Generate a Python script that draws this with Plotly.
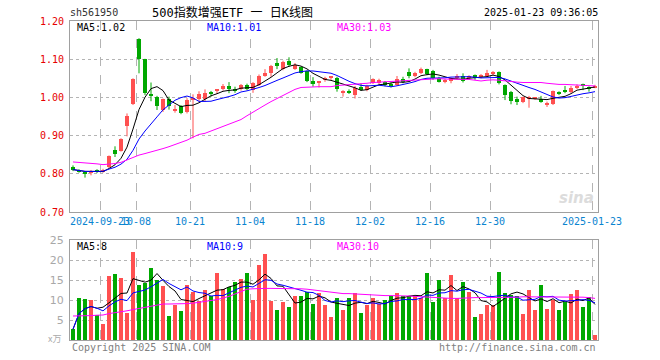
import plotly.graph_objects as go
import pandas as pd

# ---------------- data ----------------
dates = ["2024-09-12", "2024-09-13", "2024-09-18", "2024-09-19", "2024-09-20", "2024-09-23", "2024-09-24",
         "2024-09-25", "2024-09-26", "2024-09-27", "2024-09-30",
         "2024-10-08", "2024-10-09", "2024-10-10", "2024-10-11", "2024-10-14", "2024-10-15", "2024-10-16",
         "2024-10-17", "2024-10-18", "2024-10-21", "2024-10-22", "2024-10-23", "2024-10-24", "2024-10-25",
         "2024-10-28", "2024-10-29", "2024-10-30", "2024-10-31",
         "2024-11-01", "2024-11-04", "2024-11-05", "2024-11-06", "2024-11-07", "2024-11-08", "2024-11-11",
         "2024-11-12", "2024-11-13", "2024-11-14", "2024-11-15", "2024-11-18", "2024-11-19", "2024-11-20",
         "2024-11-21", "2024-11-22", "2024-11-25", "2024-11-26", "2024-11-27", "2024-11-28", "2024-11-29",
         "2024-12-02", "2024-12-03", "2024-12-04", "2024-12-05", "2024-12-06", "2024-12-09", "2024-12-10",
         "2024-12-11", "2024-12-12", "2024-12-13", "2024-12-16", "2024-12-17", "2024-12-18", "2024-12-19",
         "2024-12-20", "2024-12-23", "2024-12-24", "2024-12-25", "2024-12-26", "2024-12-27", "2024-12-30",
         "2024-12-31",
         "2025-01-02", "2025-01-03", "2025-01-06", "2025-01-07", "2025-01-08", "2025-01-09", "2025-01-10",
         "2025-01-13", "2025-01-14", "2025-01-15", "2025-01-16", "2025-01-17", "2025-01-20", "2025-01-21",
         "2025-01-22", "2025-01-23"]

open_ = [0.819, 0.810, 0.803, 0.804, 0.809, 0.806, 0.818, 0.862, 0.860, 0.926,
         0.982, 1.154, 1.101, 1.008, 1.000, 0.968, 0.997, 0.967, 0.977, 0.962,
         0.992, 0.995, 0.997, 1.012, 1.017, 1.021, 1.030, 1.020, 1.021, 1.032,
         1.019, 1.032, 1.056, 1.065, 1.089, 1.074, 1.096, 1.074, 1.079, 1.068,
         1.044, 1.039, 1.046, 1.051, 1.051, 1.012, 1.015, 1.006, 1.028, 1.019,
         1.037, 1.037, 1.041, 1.033, 1.032, 1.047, 1.067, 1.056, 1.065, 1.074,
         1.069, 1.052, 1.040, 1.044, 1.053, 1.056, 1.050, 1.059, 1.055, 1.056,
         1.062, 1.066, 1.032, 1.015, 0.995, 0.989, 0.998, 0.996, 0.995, 0.982,
         0.983, 1.014, 1.017, 1.013, 1.027, 1.035, 1.025, 1.026]
high_ = [0.822, 0.812, 0.806, 0.810, 0.812, 0.813, 0.848, 0.872, 0.893, 0.958,
         1.050, 1.155, 1.101, 1.039, 1.004, 0.997, 1.002, 0.980, 0.980, 0.998,
         1.008, 1.016, 1.021, 1.017, 1.022, 1.035, 1.040, 1.028, 1.035, 1.036,
         1.040, 1.060, 1.074, 1.085, 1.103, 1.096, 1.105, 1.090, 1.081, 1.070,
         1.053, 1.043, 1.054, 1.054, 1.054, 1.019, 1.021, 1.030, 1.037, 1.033,
         1.050, 1.049, 1.043, 1.039, 1.056, 1.054, 1.076, 1.067, 1.078, 1.075,
         1.072, 1.054, 1.048, 1.052, 1.061, 1.063, 1.058, 1.060, 1.061, 1.072,
         1.069, 1.068, 1.034, 1.017, 1.002, 1.002, 1.004, 1.001, 1.004, 0.989,
         1.018, 1.016, 1.030, 1.030, 1.034, 1.036, 1.029, 1.033]
low_ = [0.807, 0.803, 0.790, 0.796, 0.802, 0.803, 0.815, 0.844, 0.858, 0.898,
        0.980, 1.063, 1.006, 0.990, 0.967, 0.962, 0.968, 0.960, 0.956, 0.958,
        0.893, 0.990, 0.989, 1.002, 1.009, 1.018, 1.011, 1.012, 1.018, 1.019,
        1.012, 1.030, 1.054, 1.054, 1.074, 1.071, 1.081, 1.072, 1.062, 1.040,
        1.028, 1.026, 1.041, 1.046, 1.015, 1.002, 1.009, 0.997, 1.017, 1.016,
        1.035, 1.034, 1.029, 1.026, 1.031, 1.037, 1.050, 1.053, 1.061, 1.058,
        1.046, 1.039, 1.037, 1.037, 1.047, 1.039, 1.048, 1.046, 1.050, 1.054,
        1.057, 1.034, 0.993, 0.982, 0.980, 0.985, 0.973, 0.994, 0.986, 0.975,
        0.980, 1.006, 1.011, 1.011, 1.022, 1.019, 1.015, 1.024]
close_ = [0.811, 0.806, 0.802, 0.806, 0.805, 0.810, 0.846, 0.851, 0.891, 0.951,
          1.047, 1.101, 1.012, 1.004, 0.977, 0.995, 0.977, 0.970, 0.960, 0.993,
          0.998, 1.009, 1.012, 1.009, 1.020, 1.030, 1.021, 1.018, 1.032, 1.023,
          1.037, 1.056, 1.065, 1.082, 1.081, 1.093, 1.086, 1.085, 1.065, 1.044,
          1.035, 1.041, 1.050, 1.053, 1.021, 1.014, 1.014, 1.024, 1.019, 1.030,
          1.047, 1.046, 1.032, 1.031, 1.047, 1.041, 1.056, 1.065, 1.075, 1.061,
          1.050, 1.041, 1.046, 1.050, 1.055, 1.044, 1.056, 1.050, 1.057, 1.065,
          1.064, 1.037, 1.006, 0.991, 0.989, 1.000, 1.000, 0.999, 0.989, 0.983,
          1.017, 1.009, 1.016, 1.024, 1.029, 1.030, 1.023, 1.031]
# volume in 万
volume = [2.7, 10.5, 10.3, 10.0, 6.2, 4.0, 16.0, 16.5, 15.5, 6.7,
          22.0, 13.8, 14.3, 18.0, 15.0, 13.5, 6.0, 8.8, 7.3, 13.8,
          12.1, 9.8, 12.5, 11.1, 16.8, 12.7, 13.3, 14.4, 15.2, 16.8,
          10.0, 18.8, 21.5, 9.8, 7.5, 9.6, 8.3, 11.0, 11.0, 12.1,
          9.0, 11.8, 8.8, 5.8, 10.5, 7.5, 10.5, 11.8, 6.8, 8.8,
          10.5, 9.0, 10.0, 11.0, 11.8, 11.0, 11.0, 11.0, 10.5, 16.8,
          9.5, 15.0, 10.5, 16.3, 10.5, 14.5, 12.0, 5.8, 6.5, 8.8,
          8.8, 17.0, 11.8, 11.3, 11.0, 6.5, 12.5, 7.5, 13.8, 7.8,
          10.0, 7.5, 9.5, 11.5, 12.5, 8.3, 10.8, 1.3]
# 30-day moving averages as drawn (window reaches back before the shown period)
ma30_price = [0.831, 0.830, 0.829, 0.828, 0.826, 0.824, 0.825, 0.827, 0.830, 0.836,
              0.844, 0.849, 0.853, 0.857, 0.862, 0.866, 0.871, 0.876, 0.881, 0.888,
              0.896, 0.903, 0.906, 0.912, 0.917, 0.923, 0.929, 0.936, 0.942, 0.952,
              0.962, 0.971, 0.980, 0.989, 0.997, 1.006, 1.015, 1.021, 1.026, 1.027,
              1.028, 1.028, 1.028, 1.028, 1.031, 1.032, 1.033, 1.034, 1.035, 1.037,
              1.039, 1.040, 1.041, 1.042, 1.042, 1.043, 1.044, 1.046, 1.047, 1.048,
              1.049, 1.049, 1.048, 1.048, 1.047, 1.047, 1.047, 1.045, 1.043, 1.045,
              1.046, 1.045, 1.043, 1.041, 1.040, 1.039, 1.039, 1.039, 1.039, 1.037,
              1.035, 1.034, 1.034, 1.033, 1.033, 1.032, 1.031, 1.030]
ma30_volume = [6.0, 6.0, 6.1, 6.1, 6.2, 6.25, 6.6, 6.8, 7.0, 7.3,
               7.6, 7.9, 8.2, 8.5, 8.8, 9.0, 9.0, 9.0, 9.0, 9.1,
               9.2, 9.4, 9.6, 9.8, 10.1, 10.5, 10.9, 11.5, 12.2, 12.7,
               12.8, 12.9, 12.9, 12.9, 12.9, 12.9, 12.9, 12.8, 12.8, 12.7,
               12.5, 12.3, 12.1, 11.9, 11.7, 11.6, 11.6, 11.5, 11.4, 11.3,
               11.2, 11.2, 11.1, 11.1, 11.1, 11.0, 11.0, 10.9, 10.8, 10.8,
               10.7, 10.6, 10.5, 10.4, 10.4, 10.5, 10.6, 10.6, 10.6, 10.6,
               10.6, 10.6, 10.6, 10.7, 10.7, 10.8, 10.8, 10.8, 10.8, 10.8,
               10.8, 10.8, 10.8, 10.8, 10.7, 10.7, 10.6, 10.4]

tick_dates = ["2024-09-23", "2024-10-08", "2024-10-21", "2024-11-04", "2024-11-18",
              "2024-12-02", "2024-12-16", "2024-12-30", "2025-01-23"]
tick_labels = ["2024-09-23", "10-08", "10-21", "11-04", "11-18", "12-02", "12-16", "12-30", "2025-01-23"]
price_ticks = [0.70, 0.80, 0.90, 1.00, 1.10, 1.20]
vol_ticks = [5, 10, 15, 20, 25]

# ---------------- derived ----------------
n = len(dates)
idx = list(range(n))
ma5_p = pd.Series(close_).rolling(5, min_periods=1).mean().tolist()
ma10_p = pd.Series(close_).rolling(10, min_periods=1).mean().tolist()
ma5_v = pd.Series(volume).rolling(5, min_periods=1).mean().tolist()
ma10_v = pd.Series(volume).rolling(10, min_periods=1).mean().tolist()

RED = "#ff5050"
GREEN = "#00a800"
up = [c >= o for o, c in zip(open_, close_)]
colors = [RED if u else GREEN for u in up]
body_lo = [min(o, c) for o, c in zip(open_, close_)]
body_h = [max(abs(c - o), 0.0028) for o, c in zip(open_, close_)]

MONO = "DejaVu Sans Mono"
W, H = 660, 360
X0, X1 = 70, 598
PY0, PY1 = 21, 212      # price panel top/bottom (px)
VY0, VY1 = 240, 340     # volume panel top/bottom (px)

def px_x(v):
    return v / W

def px_y(v):
    return 1 - v / H

fig = go.Figure()

# wicks
for flag, col in ((True, RED), (False, GREEN)):
    wx, wy = [], []
    for i in idx:
        if up[i] == flag:
            wx += [i, i, None]
            wy += [low_[i], high_[i], None]
    fig.add_trace(go.Scatter(x=wx, y=wy, mode="lines", line=dict(color=col, width=1),
                             hoverinfo="skip", showlegend=False, xaxis="x", yaxis="y"))

# bodies
fig.add_trace(go.Bar(x=idx, y=body_h, base=body_lo, width=0.8, marker=dict(color=colors, line=dict(width=0)),
                     showlegend=False, xaxis="x", yaxis="y"))

# price MAs
fig.add_trace(go.Scatter(x=idx, y=ma5_p, mode="lines", line=dict(color="#000000", width=1),
                         showlegend=False, xaxis="x", yaxis="y"))
fig.add_trace(go.Scatter(x=idx, y=ma10_p, mode="lines", line=dict(color="#0000ff", width=1),
                         showlegend=False, xaxis="x", yaxis="y"))
fig.add_trace(go.Scatter(x=idx, y=ma30_price, mode="lines", line=dict(color="#ff00ff", width=1),
                         showlegend=False, xaxis="x", yaxis="y"))

# volume
fig.add_trace(go.Bar(x=idx, y=volume, width=0.8, marker=dict(color=colors, line=dict(width=0)),
                     showlegend=False, xaxis="x2", yaxis="y2"))
fig.add_trace(go.Scatter(x=idx, y=ma5_v, mode="lines", line=dict(color="#000000", width=1),
                         showlegend=False, xaxis="x2", yaxis="y2"))
fig.add_trace(go.Scatter(x=idx, y=ma10_v, mode="lines", line=dict(color="#0000ff", width=1),
                         showlegend=False, xaxis="x2", yaxis="y2"))
fig.add_trace(go.Scatter(x=idx, y=ma30_volume, mode="lines", line=dict(color="#ff00ff", width=1),
                         showlegend=False, xaxis="x2", yaxis="y2"))

tickpos = [dates.index(d) - 0.5 for d in tick_dates]
grid = "#b4b4b4"
frame = "#a0a0a0"

xcommon = dict(domain=[px_x(X0), px_x(X1)], range=[-0.5, n - 0.5], tickmode="array", tickvals=tickpos,
               showgrid=True, gridcolor=grid, griddash="dash", gridwidth=1, zeroline=False,
               showline=True, mirror=True, linecolor=frame, linewidth=1, ticks="", fixedrange=True)

fig.update_layout(
    width=W, height=H, margin=dict(l=0, r=0, t=0, b=0, autoexpand=False),
    paper_bgcolor="white", plot_bgcolor="white", barmode="overlay", bargap=0,
    showlegend=False,
    xaxis=dict(**xcommon, anchor="y", ticktext=tick_labels, tickangle=0,
               tickfont=dict(family=MONO, size=10, color="#0a84d0")),
    yaxis=dict(domain=[px_y(PY1), px_y(PY0)], range=[0.70, 1.20], tickmode="array",
               tickvals=price_ticks, ticktext=["%.2f" % v for v in price_ticks],
               tickfont=dict(family=MONO, size=10, color="#e60000"), ticks="", ticklabelstandoff=3,
               showgrid=True, gridcolor=grid, griddash="dot", zeroline=False,
               showline=True, mirror=True, linecolor=frame, linewidth=1, anchor="x", fixedrange=True),
    xaxis2=dict(**xcommon, anchor="y2", showticklabels=False),
    yaxis2=dict(domain=[px_y(VY1), px_y(VY0)], range=[0, 25], tickmode="array", tickvals=vol_ticks,
                tickfont=dict(family="DejaVu Sans", size=11, color="#a8a8a8"), ticks="", ticklabelstandoff=3,
                showgrid=True, gridcolor=grid, griddash="dot", zeroline=False,
                showline=True, mirror=True, linecolor=frame, linewidth=1, anchor="x2", fixedrange=True),
)

def txt(x, y, s, color="#000", size=10, anchor="left", family=MONO):
    fig.add_annotation(x=px_x(x), y=px_y(y), xref="paper", yref="paper", text=s, showarrow=False,
                       xanchor=anchor, yanchor="middle", font=dict(family=family, size=size, color=color))

txt(68, 13, "sh561950", "#333333", 10)
txt(150, 13, "500指数增强ETF 一 日K线图", "#000000", 12, family=MONO + ", Noto Sans CJK SC")
txt(600, 13, "2025-01-23 09:36:05", "#000000", 10, anchor="right")

txt(75, 28, "MA5:1.02", "#000000")
txt(205, 28, "MA10:1.01", "#0000ff")
txt(335, 28, "MA30:1.03", "#ff00ff")

txt(75, 246, "MA5:8", "#000000")
txt(205, 246, "MA10:9", "#0000ff")
txt(335, 246, "MA30:10", "#ff00ff")

txt(63, 338, "x万", "#aaaaaa", 9, anchor="right", family="Noto Sans CJK SC")
txt(70, 347, "Copyright 2025 SINA.COM", "#808080")
txt(598, 347, "http://finance.sina.com.cn", "#808080", anchor="right")

# watermark
txt(596, 198, "<b><i>sina</i></b>", "#dcdcdc", 15, anchor="right", family="DejaVu Sans")

fig.write_html("out.html", config={"displayModeBar": False},
               post_script="document.body.style.margin='0';document.body.style.overflow='hidden';")
